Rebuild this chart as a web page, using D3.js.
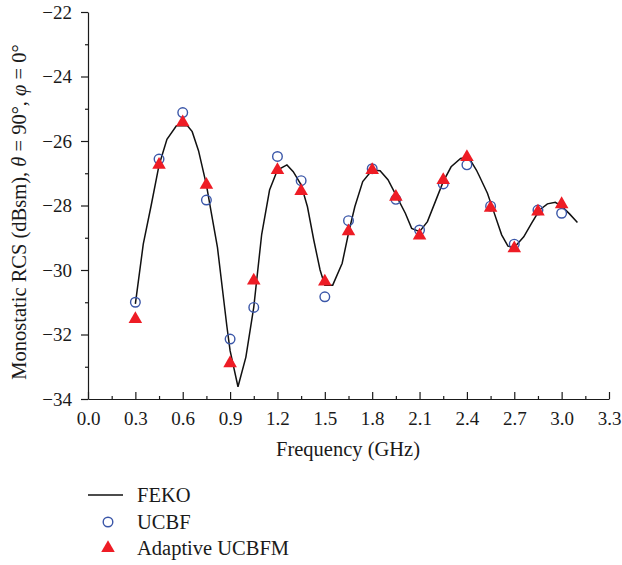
<!DOCTYPE html>
<html lang="en">
	<head>
		<meta charset="utf-8">
		<title>Monostatic RCS vs frequency</title>
		<script src="https://cdn.jsdelivr.net/npm/d3@7"></script>
		<style type="text/css">
			body {
				margin: 0;
				background: #fff;
			}
			svg text {
				font-family: "Liberation Serif", "Times New Roman", serif !important;
				fill: #1a1a1a;
			}
			.axis path, .axis line {
				stroke: #1a1a1a;
				stroke-width: 1.2;
			}
		</style>
	</head>
	<body>
		<script>
			//Width and height
			var w = 622;
			var h = 565;

			//FEKO reference curve
			var fekoFreq = [0.30, 0.35, 0.40, 0.45, 0.50, 0.56, 0.63, 0.66, 0.70, 0.75, 0.78, 0.82, 0.88, 0.90, 0.95,
				1.00, 1.05, 1.10, 1.15, 1.20, 1.26, 1.30, 1.35, 1.39, 1.43, 1.47, 1.50, 1.55, 1.61, 1.65, 1.69,
				1.74, 1.80, 1.85, 1.90, 1.95, 2.01, 2.05, 2.10, 2.15, 2.20, 2.25, 2.30, 2.36, 2.41, 2.46, 2.48,
				2.53, 2.57, 2.62, 2.66, 2.70, 2.76, 2.81, 2.86, 2.91, 2.96, 3.00, 3.05, 3.10];
			var fekoRcs = [-31.05, -29.2, -28.0, -26.75, -25.95, -25.53, -25.53, -25.71, -26.3, -27.36, -28.2, -29.3, -31.76, -32.5, -33.62,
				-32.7, -31.15, -28.9, -27.52, -26.9, -26.74, -26.95, -27.36, -28.04, -29.07, -30.0, -30.47, -30.47, -29.79, -28.86, -28.04,
				-27.26, -26.9, -26.92, -27.2, -27.67, -28.24, -28.71, -28.81, -28.5, -27.88, -27.26, -26.8, -26.54, -26.5, -26.9, -27.1,
				-27.62, -28.19, -28.91, -29.26, -29.3, -28.97, -28.55, -28.14, -27.95, -27.9, -28.02, -28.26, -28.53];

			//Sample frequencies for the two methods
			var sampleFreq = [0.30, 0.45, 0.60, 0.75, 0.90, 1.05, 1.20, 1.35, 1.50, 1.65, 1.80, 1.95, 2.10, 2.25, 2.40, 2.55, 2.70, 2.85, 3.00];
			var ucbfRcs = [-31.0, -26.56, -25.12, -27.83, -32.14, -31.16, -26.48, -27.23, -30.83, -28.47, -26.86, -27.81, -28.76, -27.33, -26.74, -28.02, -29.2, -28.14, -28.24];
			var adaptiveRcs = [-31.52, -26.74, -25.42, -27.36, -32.89, -30.33, -26.9, -27.55, -30.36, -28.8, -26.9, -27.73, -28.93, -27.21, -26.5, -28.07, -29.33, -28.19, -27.96];

			//Ticks
			var xTicks = [0.0, 0.3, 0.6, 0.9, 1.2, 1.5, 1.8, 2.1, 2.4, 2.7, 3.0, 3.3];
			var xMinor = [0.15, 0.45, 0.75, 1.05, 1.35, 1.65, 1.95, 2.25, 2.55, 2.85, 3.15];
			var yTicks = [-34, -32, -30, -28, -26, -24, -22];
			var yMinor = [-33, -31, -29, -27, -25, -23];

			var legendNames = ["FEKO", "UCBF", "Adaptive UCBFM"];

			//Scales
			var xScale = d3.scaleLinear()
				.domain([0, 3.3])
				.range([88, 609]);

			var yScale = d3.scaleLinear()
				.domain([-34, -22])
				.range([399, 12]);

			var svg = d3.select("body")
				.append("svg")
				.attr("width", w)
				.attr("height", h);

			//X axis: ticks point inwards
			svg.append("g")
				.attr("class", "axis")
				.attr("transform", "translate(0," + yScale(-34) + ")")
				.call(d3.axisBottom(xScale)
					.tickValues(xMinor)
					.tickSizeInner(-3)
					.tickSizeOuter(0)
					.tickFormat(""))
				.select(".domain").remove();

			svg.append("g")
				.attr("class", "axis")
				.attr("transform", "translate(0," + yScale(-34) + ")")
				.call(d3.axisBottom(xScale)
					.tickValues(xTicks)
					.tickSizeInner(-7)
					.tickSizeOuter(0)
					.tickPadding(13)
					.tickFormat(d3.format(".1f")))
				.selectAll("text")
				.attr("font-size", 19);

			//Y axis: ticks point outwards
			svg.append("g")
				.attr("class", "axis")
				.attr("transform", "translate(" + xScale(0) + ",0)")
				.call(d3.axisLeft(yScale)
					.tickValues(yMinor)
					.tickSizeInner(3)
					.tickSizeOuter(0)
					.tickFormat(""))
				.select(".domain").remove();

			svg.append("g")
				.attr("class", "axis")
				.attr("transform", "translate(" + xScale(0) + ",0)")
				.call(d3.axisLeft(yScale)
					.tickValues(yTicks)
					.tickSizeInner(7)
					.tickSizeOuter(0)
					.tickPadding(9)
					.tickFormat(d3.format("d")))
				.selectAll("text")
				.attr("font-size", 19);

			svg.selectAll(".axis text").attr("fill", "#1a1a1a");

			//Axis titles
			svg.append("text")
				.attr("x", 348)
				.attr("y", 456)
				.attr("text-anchor", "middle")
				.attr("font-size", 20.5)
				.text("Frequency (GHz)");

			var yTitle = svg.append("text")
				.attr("transform", "translate(26,212) rotate(-90)")
				.attr("text-anchor", "middle")
				.attr("font-size", 20.5);
			yTitle.append("tspan").text("Monostatic RCS (dBsm), ");
			yTitle.append("tspan").attr("font-style", "italic").text("θ");
			yTitle.append("tspan").text(" = 90°, ");
			yTitle.append("tspan").attr("font-style", "italic").text("φ");
			yTitle.append("tspan").text(" = 0°");

			//FEKO line
			var feko = fekoFreq.map(function(f, i) { return [f, fekoRcs[i]]; });
			var line = d3.line()
				.x(function(d) { return xScale(d[0]); })
				.y(function(d) { return yScale(d[1]); });

			svg.append("path")
				.datum(feko)
				.attr("d", line)
				.attr("fill", "none")
				.attr("stroke", "#111")
				.attr("stroke-width", 1.5);

			//UCBF circles
			var circleColor = "#3a56a8";
			var triColor = "#ee1c25";
			var tri = d3.symbol().type(d3.symbolTriangle).size(80);

			svg.selectAll("circle.ucbf")
				.data(sampleFreq)
				.enter()
				.append("circle")
				.attr("class", "ucbf")
				.attr("cx", function(d) { return xScale(d); })
				.attr("cy", function(d, i) { return yScale(ucbfRcs[i]); })
				.attr("r", 4.8)
				.attr("fill", "none")
				.attr("stroke", circleColor)
				.attr("stroke-width", 1.4);

			//Adaptive UCBFM triangles
			svg.selectAll("path.adaptive")
				.data(sampleFreq)
				.enter()
				.append("path")
				.attr("class", "adaptive")
				.attr("d", tri)
				.attr("transform", function(d, i) {
					return "translate(" + xScale(d) + "," + yScale(adaptiveRcs[i]) + ")";
				})
				.attr("fill", triColor);

			//Legend
			var legend = svg.append("g");
			var ly = [495, 522, 548];

			legend.append("line")
				.attr("x1", 88).attr("x2", 123)
				.attr("y1", ly[0]).attr("y2", ly[0])
				.attr("stroke", "#111")
				.attr("stroke-width", 1.5);

			legend.append("circle")
				.attr("cx", 108).attr("cy", ly[1])
				.attr("r", 4.8)
				.attr("fill", "none")
				.attr("stroke", circleColor)
				.attr("stroke-width", 1.4);

			legend.append("path")
				.attr("d", tri)
				.attr("transform", "translate(108," + ly[2] + ")")
				.attr("fill", triColor);

			legend.selectAll("text")
				.data(legendNames)
				.enter()
				.append("text")
				.attr("x", 137)
				.attr("y", function(d, i) { return ly[i]; })
				.attr("dy", "0.35em")
				.attr("font-size", 20.5)
				.text(function(d) { return d; });
		</script>
	</body>
</html>
